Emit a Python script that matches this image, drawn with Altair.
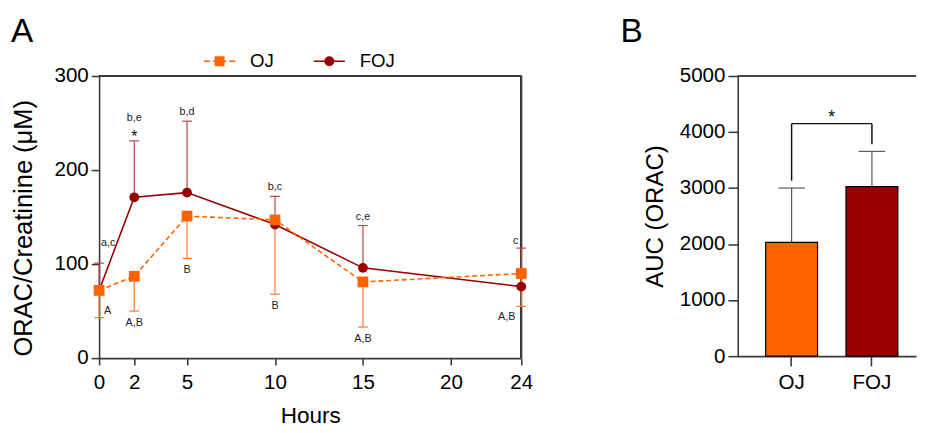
import altair as alt
import pandas as pd

# ---------------- data ----------------
hours = [0, 2, 5, 10, 15, 24]
oj_mean = [72, 87, 151, 147, 81, 90]
oj_low = [43, 50, 106, 68, 33, 55]
foj_mean = [72, 171, 176, 142, 96, 76]
foj_high = [101, 231, 252, 172, 141, 117]
oj_letters = ["A", "A,B", "B", "B", "A,B", "A,B"]
foj_letters = ["a,c", "b,e", "b,d", "b,c", "c,e", "c"]
foj_star = ["", "*", "", "", "", ""]
hour_ticks = [0, 2, 5, 10, 15, 20, 24]
orac_ticks = [0, 100, 200, 300]

groups = ["OJ", "FOJ"]
auc_mean = [2030, 3025]
auc_high = [3000, 3655]
bracket_y = 4150
bracket_leg_end = [3130, 3780]
auc_ticks = [0, 1000, 2000, 3000, 4000, 5000]

# ---------------- styles ----------------
FONT = "Liberation Sans"
ORANGE = "#FF6300"
DARKRED = "#990000"
OJ_ERR = "#FF7A33"
FOJ_ERR = "#B84545"
AXC = "#3a3a3a"
LW = 1.6

oj = pd.DataFrame({"h": hours, "m": oj_mean, "e": oj_low, "lab": oj_letters})
foj = pd.DataFrame({"h": hours, "m": foj_mean, "e": foj_high, "lab": foj_letters, "star": foj_star})
both = pd.concat([oj.assign(series="OJ"), foj.assign(series="FOJ")], ignore_index=True)

X = alt.X("h:Q", scale=alt.Scale(domain=[0, 24], nice=False),
          axis=alt.Axis(values=hour_ticks, title="Hours", tickSize=7, labelPadding=7, labelFlush=False,
                        titlePadding=13, titleFontSize=23))
Y = alt.Y("m:Q", scale=alt.Scale(domain=[0, 300], nice=False),
          axis=alt.Axis(values=orac_ticks, title="ORAC/Creatinine (μM)", tickSize=8, labelPadding=3,
                        labelFlush=False, titlePadding=18, titleFontSize=26, titleY=155))


def err_layers(df, color):
    rule = alt.Chart(df).mark_rule(color=color, strokeWidth=1.2).encode(x=X, y=Y, y2="e:Q")
    cap = alt.Chart(df).mark_point(shape="M-1,0H1", size=100, color=color, strokeWidth=1.2,
                                   opacity=1).encode(x=X, y=alt.Y("e:Q"))
    return [rule, cap]


def txt(df, **kw):
    base = dict(font=FONT, fontSize=11, color="#222222")
    base.update(kw)
    return alt.Chart(df).mark_text(**base).encode(x=X, y=alt.Y("e:Q"), text="lab:N")


mid = ~foj["h"].isin([0, 24])
foj_mid_plain = foj[mid & (foj["star"] == "")]
foj_mid_star = foj[mid & (foj["star"] != "")]
foj_first = foj[foj["h"] == 0]
foj_last = foj[foj["h"] == 24]
oj_mid = oj[~oj["h"].isin([0, 24])]
oj_first = oj[oj["h"] == 0]
oj_last = oj[oj["h"] == 24]

path_oj = "M-1,0H-0.62M-0.42,0H-0.27M0.27,0H0.42M0.62,0H1M-0.27,-0.27H0.27V0.27H-0.27Z"
path_foj = "M-1,0H1M-0.27,0A0.27,0.27,0,1,0,0.27,0A0.27,0.27,0,1,0,-0.27,0Z"
leg = alt.Legend(orient="none", legendX=106, legendY=-32, direction="horizontal", title=None,
                 symbolSize=1024, symbolStrokeWidth=1.5, symbolOpacity=1, labelFont=FONT,
                 labelFontSize=19, labelColor="black", labelOffset=14, columnPadding=37, padding=0)

legend_layer = alt.Chart(both).mark_point(filled=True, opacity=0).encode(
    x=X, y=Y,
    color=alt.Color("series:N", scale=alt.Scale(domain=groups, range=[ORANGE, DARKRED]), legend=leg),
    stroke=alt.Stroke("series:N", scale=alt.Scale(domain=groups, range=[ORANGE, DARKRED]), legend=leg),
    shape=alt.Shape("series:N", scale=alt.Scale(domain=groups, range=[path_oj, path_foj]), legend=leg),
)

layers_a = [
    alt.Chart(oj).mark_rule(color=AXC, strokeWidth=LW).encode(y=alt.datum(300)),
    alt.Chart(oj).mark_rule(color=AXC, strokeWidth=LW).encode(x=alt.datum(24)),
    legend_layer,
]
layers_a += err_layers(foj, FOJ_ERR)
layers_a += err_layers(oj, OJ_ERR)
layers_a += [
    alt.Chart(foj).mark_line(color=DARKRED, strokeWidth=1.6).encode(x=X, y=Y),
    alt.Chart(oj).mark_line(color=ORANGE, strokeWidth=1.6, strokeDash=[5, 3]).encode(x=X, y=Y),
    alt.Chart(foj).mark_circle(color=DARKRED, size=100, opacity=1).encode(x=X, y=Y),
    alt.Chart(oj).mark_square(color=ORANGE, size=121, opacity=1).encode(x=X, y=Y),
    txt(foj_mid_plain, baseline="alphabetic", dy=-6),
    txt(foj_mid_star, baseline="alphabetic", dy=-20),
    alt.Chart(foj_mid_star).mark_text(font=FONT, fontSize=16, color="#111111", baseline="alphabetic",
                                       dy=1).encode(x=X, y=alt.Y("e:Q"), text="star:N"),
    txt(foj_first, baseline="alphabetic", align="left", dx=2, dy=-17),
    txt(foj_last, baseline="alphabetic", align="right", dx=-3, dy=-4),
    txt(oj_mid, baseline="top", dy=6),
    txt(oj_first, baseline="top", align="left", dx=5, dy=-13),
    txt(oj_last, baseline="top", align="right", dx=-6, dy=5),
]

panel_a = alt.layer(*layers_a).properties(
    width=431, height=288,
    title=alt.TitleParams("A", anchor="start", frame="bounds", fontSize=34, fontWeight="normal",
                          font=FONT, color="black", offset=17),
)

# ---------------- panel B ----------------
dfb = pd.DataFrame({"g": groups, "m": auc_mean, "e": auc_high, "top": [bracket_y] * 2,
                    "leg": bracket_leg_end})
brk = pd.DataFrame({"a": [groups[0]], "b": [groups[1]], "y": [bracket_y]})

XB = alt.X("g:N", sort=groups,
           scale=alt.Scale(domain=groups, paddingInner=0.354, paddingOuter=0.2868, align=0.606),
           axis=alt.Axis(title=None, labelAngle=0, labelPadding=6, tickSize=10))
YB = alt.Y("m:Q", scale=alt.Scale(domain=[0, 5000], nice=False),
           axis=alt.Axis(values=auc_ticks, format="d", title="AUC (ORAC)", tickSize=10, labelPadding=3,
                         labelFlush=False, titlePadding=12, titleFontSize=24.5))

layers_b = [
    alt.Chart(dfb).mark_rule(color=AXC, strokeWidth=LW).encode(y=alt.datum(5000)),
    alt.Chart(dfb).mark_rule(color="#555555", strokeWidth=1.2).encode(x=XB, y=YB, y2="e:Q"),
    alt.Chart(dfb).mark_point(shape="M-1,0H1", size=729, color="#555555", strokeWidth=1.2,
                              opacity=1).encode(x=XB, y=alt.Y("e:Q")),
    alt.Chart(dfb).mark_bar(stroke="black", strokeWidth=1.2).encode(
        x=XB, y=YB,
        color=alt.Color("g:N", scale=alt.Scale(domain=groups, range=[ORANGE, DARKRED]), legend=None)),
    alt.Chart(dfb).mark_rule(color="#111111", strokeWidth=1.5).encode(x=XB, y=alt.Y("top:Q"), y2="leg:Q"),
    alt.Chart(brk).mark_rule(color="#111111", strokeWidth=1.5).encode(
        x=alt.X("a:N"), x2="b:N", y=alt.Y("y:Q")),
    alt.Chart(brk).mark_text(text="*", font=FONT, fontSize=18, color="#111111", baseline="alphabetic",
                             dx=41, dy=-1).encode(x=alt.X("a:N"), y=alt.Y("y:Q")),
]

panel_b = alt.layer(*layers_b).properties(
    width=182, height=286,
    title=alt.TitleParams("B", anchor="start", frame="bounds", fontSize=34, fontWeight="normal",
                          font=FONT, color="black", offset=17, dx=-23),
)

chart = alt.hconcat(panel_a, panel_b, spacing=221, bounds="flush").properties(
    padding={"left": 2, "top": 3, "right": 0, "bottom": 0}
).configure_view(stroke=None).configure_axis(
    domainColor=AXC, domainWidth=LW, tickColor=AXC, tickWidth=LW,
    labelFont=FONT, labelFontSize=21, labelColor="black",
    titleFont=FONT, titleFontWeight="normal", titleColor="black", grid=False,
)

chart.save("out.html", embed_options={"renderer": "svg", "actions": False})
